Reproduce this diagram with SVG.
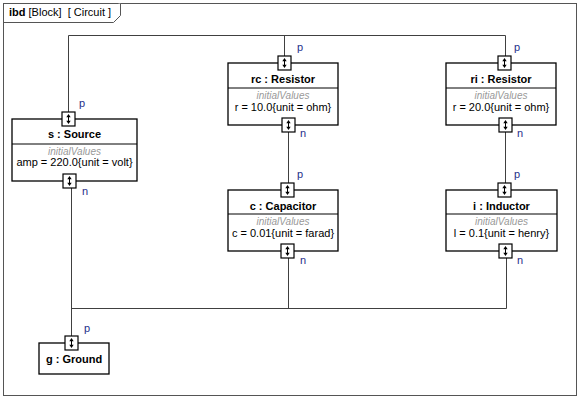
<svg xmlns="http://www.w3.org/2000/svg" width="582" height="400" viewBox="0 0 582 400">
<defs>
<style>
text{font-family:"Liberation Sans",Arial,sans-serif;}
.frame{fill:#fff;stroke:#555;stroke-width:1}
.box{fill:#fff;stroke:#000;stroke-width:1.3}
.sep{stroke:#000;stroke-width:1}
.wire{fill:none;stroke:#404040;stroke-width:1}
.title{font-size:11px;font-weight:bold;fill:#000;text-anchor:middle}
.iv{font-size:10px;font-style:italic;fill:#999;text-anchor:middle}
.val{font-size:11px;fill:#000;text-anchor:middle}
.pl{font-size:11px;fill:#1f2f8a}
.hdr{font-size:11px;fill:#000}
</style>
<g id="port">
<rect x="-6.5" y="-7" width="13" height="14" fill="#fff" stroke="#000" stroke-width="1.2"/>
<path d="M-2.2,-1.8 L2.2,-1.8 L0,-5 Z M-2.2,1.8 L2.2,1.8 L0,5 Z" fill="#000"/>
<path d="M0,-2 V2" stroke="#000" stroke-width="1"/>
</g>
</defs>
<rect width="582" height="400" fill="#fff"/>
<g id="frame">
<rect class="frame" x="3.5" y="3.5" width="573" height="392"/>
<path class="frame" d="M3.5,22.5 H113.5 L120.5,15.5 V3.5" fill="none"/>
<text class="hdr" x="9" y="16" xml:space="preserve"><tspan font-weight="bold">ibd</tspan> [Block]  [ Circuit ]</text>
</g>
<g id="connectors">
<path class="wire" d="M68.5,112 V35.5 H505.5 V56"/>
<path class="wire" d="M284.5,35.5 V56"/>
<path class="wire" d="M288.5,132 V183"/>
<path class="wire" d="M505.5,131 V183"/>
<path class="wire" d="M71.5,188 V336"/>
<path class="wire" d="M71.5,308.5 H506.5"/>
<path class="wire" d="M288.5,258 V308.5"/>
<path class="wire" d="M506.5,258 V308.5"/>
</g>
<g id="s">
<rect class="box" x="12" y="119" width="125" height="62"/>
<line class="sep" x1="12" y1="144" x2="137" y2="144"/>
<text class="title" x="74.5" y="138">s : Source</text>
<text class="iv" x="74.5" y="155">initialValues</text>
<text class="val" x="74.5" y="166">amp = 220.0{unit = volt}</text>
<use href="#port" x="68.5" y="119"/>
<use href="#port" x="69.5" y="181"/>
<text class="pl" x="79" y="107">p</text>
<text class="pl" x="82" y="195">n</text>
</g>
<g id="rc">
<rect class="box" x="228" y="63" width="110" height="62"/>
<line class="sep" x1="228" y1="88" x2="338" y2="88"/>
<text class="title" x="283" y="83">rc : Resistor</text>
<text class="iv" x="283" y="99">initialValues</text>
<text class="val" x="283" y="111">r = 10.0{unit = ohm}</text>
<use href="#port" x="284.5" y="63"/>
<use href="#port" x="288.5" y="125"/>
<text class="pl" x="297" y="51">p</text>
<text class="pl" x="300" y="137">n</text>
</g>
<g id="ri">
<rect class="box" x="446" y="63" width="110" height="62"/>
<line class="sep" x1="446" y1="88" x2="556" y2="88"/>
<text class="title" x="501" y="83">ri : Resistor</text>
<text class="iv" x="501" y="99">initialValues</text>
<text class="val" x="501" y="111">r = 20.0{unit = ohm}</text>
<use href="#port" x="504.5" y="63"/>
<use href="#port" x="505.5" y="125"/>
<text class="pl" x="514" y="51">p</text>
<text class="pl" x="517" y="137">n</text>
</g>
<g id="c">
<rect class="box" x="228" y="190" width="110" height="61"/>
<line class="sep" x1="228" y1="214" x2="338" y2="214"/>
<text class="title" x="283" y="210">c : Capacitor</text>
<text class="iv" x="283" y="225">initialValues</text>
<text class="val" x="283" y="237">c = 0.01{unit = farad}</text>
<use href="#port" x="287.5" y="190"/>
<use href="#port" x="287.5" y="251"/>
<text class="pl" x="297" y="178">p</text>
<text class="pl" x="300" y="264">n</text>
</g>
<g id="i">
<rect class="box" x="446" y="190" width="111" height="61"/>
<line class="sep" x1="446" y1="214" x2="557" y2="214"/>
<text class="title" x="501.5" y="210">i : Inductor</text>
<text class="iv" x="501.5" y="225">initialValues</text>
<text class="val" x="501.5" y="237">l = 0.1{unit = henry}</text>
<use href="#port" x="504.5" y="190"/>
<use href="#port" x="505.5" y="251"/>
<text class="pl" x="514" y="178">p</text>
<text class="pl" x="517" y="264">n</text>
</g>
<g id="g">
<rect class="box" x="39" y="343" width="70" height="31"/>
<text class="title" x="74" y="363">g : Ground</text>
<use href="#port" x="71.5" y="343"/>
<text class="pl" x="84" y="332">p</text>
</g>
</svg>
